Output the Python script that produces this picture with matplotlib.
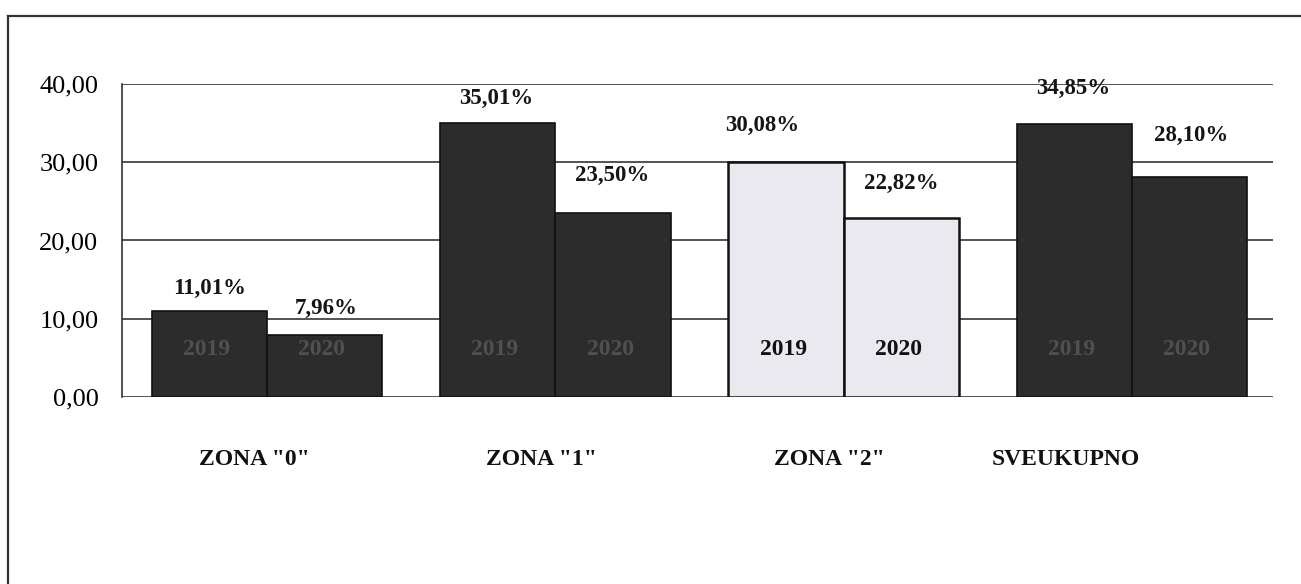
import numpy as np
import matplotlib
matplotlib.use("Agg")
import matplotlib.pyplot as plt
from matplotlib.lines import Line2D
from matplotlib.transforms import blended_transform_factory

plt.rcParams['font.family'] = ['Liberation Serif', 'DejaVu Serif']

categories = ['ZONA "0"', 'ZONA "1"', 'ZONA "2"', 'SVEUKUPNO']
years = ['2019', '2020']
values_2019 = [11.01, 35.01, 30.08, 34.85]
values_2020 = [7.96, 23.50, 22.82, 28.10]
value_labels_2019 = ['11,01%', '35,01%', '30,08%', '34,85%']
value_labels_2020 = ['7,96%', '23,50%', '22,82%', '28,10%']
yticks = [0, 10, 20, 30, 40]
ytick_labels = ['0,00', '10,00', '20,00', '30,00', '40,00']

# layout / style (not data)
dark = '#2c2c2c'
light = '#e9e9ef'
bar_colors = [dark, dark, light, dark]
edge_widths = [1.2, 1.2, 1.8, 1.2]
year_text_colors = ['#505050', '#505050', '#111111', '#505050']
label_dy_2019 = [16, 18, 26, 26]   # points above bar top
label_dy_2020 = [19, 27, 25, 30]
label_dx_2019 = [0, -1, -17, -1]
label_dx_2020 = [1, -1, 0, 1]
cat_dx = [-0.045, -0.05, -0.05, -0.23]

fig = plt.figure(figsize=(13.01, 5.84), dpi=100)
ax = fig.add_axes([0.0938, 0.3202, 0.8847, 0.5360])

x = np.arange(len(categories))
w = 0.40
b1 = ax.bar(x - w / 2, values_2019, width=w, color=bar_colors,
            edgecolor='#111111', linewidth=edge_widths, zorder=3)
b2 = ax.bar(x + w / 2, values_2020, width=w, color=bar_colors,
            edgecolor='#111111', linewidth=edge_widths, zorder=3)

ax.set_xlim(-0.503, 3.489)
ax.set_ylim(0, 40)
ax.set_yticks(yticks)
ax.set_yticklabels(ytick_labels, fontsize=19)
ax.tick_params(axis='y', length=0, pad=17)
ax.set_xticks([])
ax.yaxis.grid(True, color='#444444', linewidth=1.3, zorder=0)
ax.set_axisbelow(True)
for s in ['top', 'right', 'bottom']:
    ax.spines[s].set_visible(False)
ax.spines['left'].set_color('#333333')
ax.spines['left'].set_linewidth(1.2)

for i in range(len(categories)):
    ax.annotate(value_labels_2019[i], xy=(x[i] - w / 2, values_2019[i]),
                xytext=(label_dx_2019[i], label_dy_2019[i]), textcoords='offset points',
                ha='center', va='center', fontsize=16.5, fontweight='bold', color='#151515')
    ax.annotate(value_labels_2020[i], xy=(x[i] + w / 2, values_2020[i]),
                xytext=(label_dx_2020[i], label_dy_2020[i]), textcoords='offset points',
                ha='center', va='center', fontsize=16.5, fontweight='bold', color='#151515')
    for j, off in enumerate([-w / 2, w / 2]):
        ax.annotate(years[j], xy=(x[i] + off, 0), xytext=(-2, 34),
                    textcoords='offset points', ha='center', va='center',
                    fontsize=17, fontweight='bold', color=year_text_colors[i], zorder=4)

trans = blended_transform_factory(ax.transData, ax.transAxes)
for i, c in enumerate(categories):
    ax.text(x[i] + cat_dx[i], -0.20, c, transform=trans, ha='center', va='center',
            fontsize=17, fontweight='bold', color='#111111')

# outer frame of the scanned figure
fig.add_artist(Line2D([8 / 1301, 1.0], [1 - 16 / 584, 1 - 16 / 584],
                      transform=fig.transFigure, color='#333333', linewidth=1.6))
fig.add_artist(Line2D([8 / 1301, 8 / 1301], [0, 1 - 16 / 584],
                      transform=fig.transFigure, color='#333333', linewidth=1.6))

fig.savefig('out.png', dpi=100, facecolor='white')
